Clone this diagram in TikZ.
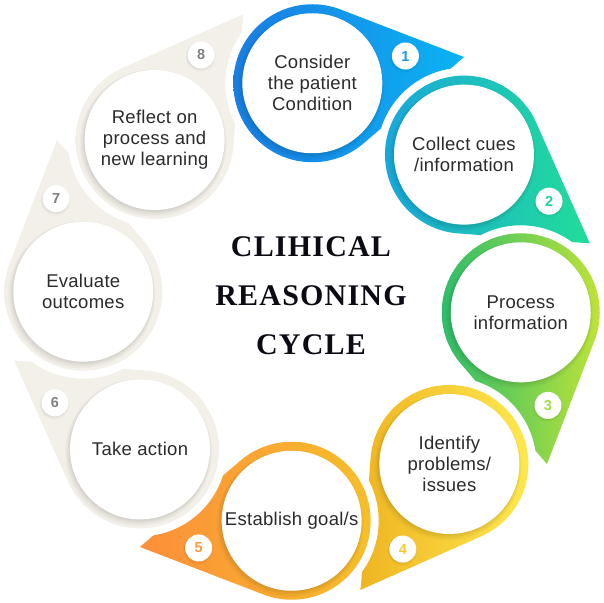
\documentclass[tikz,border=0pt]{standalone}
\usepackage{fontspec}
\setmainfont{Liberation Serif}
\setsansfont{Liberation Sans}
\newfontfamily\bodyfont[LetterSpace=1.5]{Liberation Sans}
\newfontfamily\titlefont[LetterSpace=4]{Liberation Serif}
\usetikzlibrary{calc}
\definecolor{s1l}{HTML}{1A7DE2}
\definecolor{s1r}{HTML}{0BB3F3}
\definecolor{s2l}{HTML}{19A8DA}
\definecolor{s2r}{HTML}{22DD98}
\definecolor{s3l}{HTML}{2EBD6C}
\definecolor{s3r}{HTML}{BDE338}
\definecolor{s4l}{HTML}{EFB522}
\definecolor{s4r}{HTML}{FEE84E}
\definecolor{s5l}{HTML}{FC8E3A}
\definecolor{s5r}{HTML}{F6BF2A}
\definecolor{sg}{HTML}{F2F0E9}
\definecolor{n1}{HTML}{1597EA}
\definecolor{n2}{HTML}{20CFA2}
\definecolor{n3}{HTML}{A3DB43}
\definecolor{n4}{HTML}{F4C934}
\definecolor{n5}{HTML}{FB9A38}
\definecolor{ng}{HTML}{808080}
\definecolor{txtgray}{HTML}{2B2B2B}
\definecolor{titlecol}{HTML}{0B0B14}
\begin{document}
\begin{tikzpicture}[x=1pt,y=1pt,
  bodytext/.style={align=center, text=txtgray, font=\bodyfont\fontsize{18.5}{21}\selectfont},
  badge/.style={circle, fill=white, minimum size=27pt, inner sep=0pt, font=\sffamily\bfseries\fontsize{14.5}{14.5}\selectfont},
  whitedisc/.style={circle, fill=white, minimum size=140pt, inner sep=0pt},
  softshadow/.style={black, opacity=0.025}]
\useasboundingbox (0,0) rectangle (604,602);
\coordinate (O) at (302,300);
\foreach \k in {1,...,8}{
  \pgfmathsetmacro{\th}{87.3-45*(\k-1)}
  \coordinate (C\k) at ($(O)+(\th:219)$);
}
% coloured tear-drop shapes
\foreach \k/\n/\lc/\rc in {1/2/s1l/s1r,2/3/s2l/s2r,3/4/s3l/s3r,4/5/s4l/s4r,5/6/s5l/s5r,6/7/sg/sg,7/8/sg/sg,8/1/sg/sg}{
  \pgfmathsetmacro{\th}{87.3-45*(\k-1)}
  \pgfmathsetmacro{\aq}{\th-136.6}
  \pgfmathsetmacro{\at}{\th-77.5}
  \pgfmathsetmacro{\ap}{\th-18.4}
  \begin{scope}
    \clip (-20,-20) -- (-20,622) -- (624,622) -- (624,-20) -- cycle (C\n) circle (87);
    \shade[left color=\lc, right color=\rc] (C\k) circle (79)
      ($(C\k)+(\aq:79)$) -- ($(C\k)+(\at:154)$) -- ($(C\k)+(\ap:79)$) -- (C\k) -- cycle;
  \end{scope}
}
% white discs with text
\foreach \k/\txt in {1/{Consider\\the patient\\Condition},2/{Collect cues\\/information},3/{Process\\information},4/{Identify\\problems/\\issues},5/{Establish goal/s},6/{Take action},7/{Evaluate\\outcomes},8/{Reflect on\\process and\\new learning}}{
  \foreach \r/\dx/\dy in {73.5/-1.5/-3, 72.5/-1.2/-2.5, 71.5/-1/-2, 70.8/-0.7/-1.5, 70.3/-0.4/-1}{
    \fill[softshadow] ($(C\k)+(\dx,\dy)$) circle (\r);
  }
  \node[whitedisc, bodytext] (c\k) at (C\k) {\txt};
}
% number badges
\foreach \k/\nc in {1/n1,2/n2,3/n3,4/n4,5/n5,6/ng,7/ng,8/ng}{
  \pgfmathsetmacro{\th}{87.3-45*(\k-1)}
  \pgfmathsetmacro{\ab}{\th-71}
  \foreach \r/\dy in {15/-1.8, 14.3/-1.3, 13.8/-0.8}{
    \fill[softshadow] ($(C\k)+(\ab:97)+(-0.5,\dy)$) circle (\r);
  }
  \node[badge, text=\nc] (b\k) at ($(C\k)+(\ab:97)$) {\k};
}
\node[font=\titlefont\bfseries\fontsize{30}{49}\selectfont, align=center, text=titlecol] (title) at (311,306) {CLIHICAL\\REASONING\\CYCLE};
\end{tikzpicture}
\end{document}
